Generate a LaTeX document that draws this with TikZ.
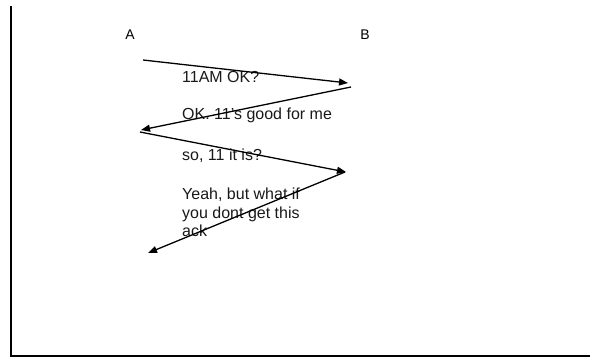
\documentclass[tikz,border=0pt]{standalone}
\usepackage{fontspec}
\setmainfont{Liberation Sans}
\usetikzlibrary{arrows.meta}

\begin{document}
\begin{tikzpicture}[
    x=1pt, y=-1pt,
    host/.style={font=\fontsize{14}{16}\selectfont, inner sep=0pt},
    msgtext/.style={font=\fontsize{16}{18.5}\selectfont, inner sep=0pt,
                    align=left, text=black!90},
    msg/.style={-{Triangle[length=9pt, width=7pt]}, line width=1.3pt}
  ]
  \useasboundingbox (0,0) rectangle (590,357);
  % frame
  \coordinate (top) at (11,6);
  \coordinate (corner) at (11,356);
  \coordinate (right) at (590,356);
  \draw[line width=1.5pt] (top) -- (corner) -- (right);
  % hosts
  \node[host] (hA) at (130,35) {A};
  \node[host] (hB) at (365,35) {B};
  % end points of the messages
  \coordinate (a1) at (143,60);
  \coordinate (b1) at (348,83);
  \coordinate (b2) at (351,87);
  \coordinate (a2) at (141,130);
  \coordinate (a3) at (140,132);
  \coordinate (b3) at (346,172);
  \coordinate (b4) at (345,172);
  \coordinate (a4) at (148,253);
  % texts
  \node[msgtext, anchor=base west] (t1) at (182,82) {11AM OK?};
  \node[msgtext, anchor=base west] (t2) at (182,119) {OK. 11's good for me};
  \node[msgtext, anchor=base west] (t3) at (182,160) {so, 11 it is?};
  \node[msgtext, anchor=north west] (t4) at (182,188)
    {Yeah, but what if\\you dont get this\\ack};
  % messages
  \draw[msg] (a1) -- (b1);
  \draw[msg] (b2) -- (a2);
  \draw[msg] (a3) -- (b3);
  \draw[msg] (b4) -- (a4);
\end{tikzpicture}
\end{document}
